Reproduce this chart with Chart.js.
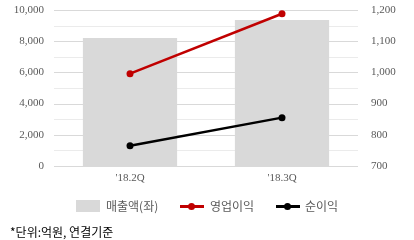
<!DOCTYPE html>
<html>
<head>
<meta charset="utf-8">
<script src="https://cdn.jsdelivr.net/npm/chart.js@4"></script>
<style>
  body { margin: 0; background: #fff; }
  #wrap { width: 414px; height: 240px; position: relative; font-family: "Noto Sans CJK KR", sans-serif; font-size: 12px; }
  #perf_chart { position: absolute; left: 0; top: 0; }
  .t { position: absolute; line-height: 12px; height: 12px; white-space: nowrap; color: #595959; }
  .box { position: absolute; left: 76px; top: 200px; width: 24px; height: 12px; background: #d9d9d9; }
  .ln { position: absolute; top: 205px; width: 24px; height: 3px; }
  .dot { position: absolute; top: 203px; width: 7px; height: 7px; border-radius: 50%; }
</style>
</head>
<body>
<div id="wrap">
  <canvas id="perf_chart" width="414" height="240"></canvas>
  <div class="box"></div><div class="t" style="left:106px; top:200px;">매출액(좌)</div>
  <div class="ln" style="left:180px; background:#c00000;"></div><div class="dot" style="left:188px; background:#c00000;"></div>
  <div class="t" style="left:210px; top:200px;">영업이익</div>
  <div class="ln" style="left:276px; background:#000;"></div><div class="dot" style="left:284px; background:#000;"></div>
  <div class="t" style="left:305px; top:200px;">순이익</div>
  <div class="t" style="left:10px; top:226px; color:#000;">*단위:억원, 연결기준</div>
</div>
<script>
var quarters = ["'18.2Q", "'18.3Q"];
var sales = [8200, 9360];        // 매출액 (좌)
var opProfit = [996, 1188];      // 영업이익 (우)
var netProfit = [765, 855];      // 순이익 (우)
var leftTicks = [0, 2000, 4000, 6000, 8000, 10000];

var tickFont = { family: 'Liberation Serif', size: 11 };
var grey = '#595959';

// horizontal grid drawn last, slid underneath everything already painted
var hGrid = {
  id: 'hGrid',
  afterDraw: function (chart) {
    var c = chart.ctx, a = chart.chartArea, s = chart.scales.y;
    c.save();
    c.globalCompositeOperation = 'destination-over';
    s.ticks.forEach(function (t) {
      var py = Math.round(s.getPixelForValue(t.value));
      c.fillStyle = t.value % 2000 === 0 ? '#d9d9d9' : '#ebebeb';
      c.fillRect(Math.round(a.left), py, Math.round(a.right - a.left), 1);
    });
    c.fillStyle = '#ffffff';
    c.fillRect(0, 0, chart.width, chart.height);
    c.restore();
  }
};

var ctx = document.getElementById('perf_chart').getContext('2d');
var chart = new Chart(ctx, {
  type: 'bar',
  data: {
    labels: quarters,
    datasets: [
      {
        type: 'line', label: '영업이익', data: opProfit, yAxisID: 'y1',
        borderColor: '#c00000', backgroundColor: '#c00000',
        borderWidth: 2.5, pointRadius: 3.5, pointBorderWidth: 0, order: 1
      },
      {
        type: 'line', label: '순이익', data: netProfit, yAxisID: 'y1',
        borderColor: '#000', backgroundColor: '#000',
        borderWidth: 2.5, pointRadius: 3.5, pointBorderWidth: 0, order: 2
      },
      {
        label: '매출액(좌)', data: sales, yAxisID: 'y',
        backgroundColor: '#d9d9d9',
        categoryPercentage: 0.62, barPercentage: 1, order: 3
      }
    ]
  },
  options: {
    responsive: false,
    animation: false,
    layout: { padding: { top: 10 } },
    plugins: { legend: { display: false }, tooltip: { enabled: false } },
    scales: {
      x: {
        grid: { display: false, tickLength: 0 },
        border: { display: false },
        ticks: { color: grey, font: tickFont, padding: 6 },
        afterFit: function (s) { s.height = 74; }
      },
      y: {
        position: 'left', min: 0, max: 10000,
        ticks: {
          stepSize: 1000, autoSkip: false,
          color: grey, font: tickFont, padding: 10,
          callback: function (v) {
            return leftTicks.indexOf(v) >= 0 ? v.toLocaleString('en-US') : '';
          }
        },
        grid: { display: false, tickLength: 0 },
        border: { display: false },
        afterFit: function (s) { s.width = 54; s.paddingTop = 0; s.paddingBottom = 0; }
      },
      y1: {
        position: 'right', min: 700, max: 1200,
        ticks: { stepSize: 100, color: grey, font: tickFont, padding: 13 },
        grid: { display: false, tickLength: 0 },
        border: { display: false },
        afterFit: function (s) { s.width = 56; s.paddingTop = 0; s.paddingBottom = 0; }
      }
    }
  },
  plugins: [hGrid]
});
</script>
</body>
</html>
